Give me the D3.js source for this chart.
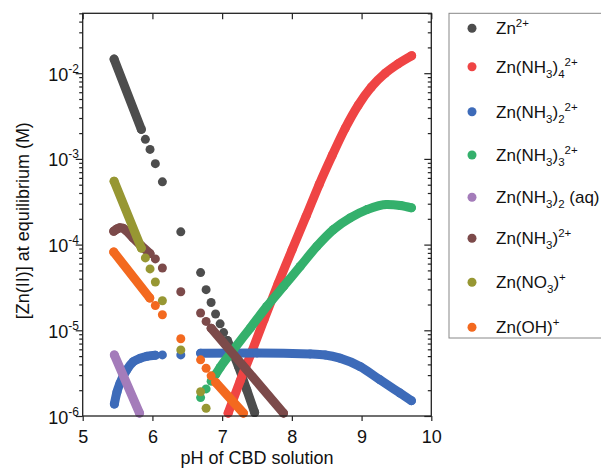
<!DOCTYPE html>
<html><head><meta charset="utf-8">
<script src="https://cdn.jsdelivr.net/npm/d3@7"></script>
<style>body{margin:0;background:#fff} svg{display:block}</style>
</head><body>
<svg id="c" width="601" height="469"></svg>
<script>
// ---------- data ----------
const xTicks = [5, 6, 7, 8, 9, 10];
const yTicks = [1e-6, 1e-5, 1e-4, 1e-3, 1e-2];
const yTickExp = ["-6", "-5", "-4", "-3", "-2"];
const xLabel = "pH of CBD solution";
const yLabel = "[Zn(II)] at equilibrium (M)";

const seriesNames = [
  [["Zn",""],["2+","sup"]],
  [["Zn(NH",""],["3","sub"],[")",""],["4","sub"],["2+","sup"]],
  [["Zn(NH",""],["3","sub"],[")",""],["2","sub"],["2+","sup"]],
  [["Zn(NH",""],["3","sub"],[")",""],["3","sub"],["2+","sup"]],
  [["Zn(NH",""],["3","sub"],[")",""],["2","sub"],[" (aq)",""]],
  [["Zn(NH",""],["3","sub"],[")",""],["2+","sup"]],
  [["Zn(NO",""],["3","sub"],[")",""],["+","sup"]],
  [["Zn(OH)",""],["+","sup"]]
];
const seriesColors = ["#4d4d4d","#ef4444","#3d6bb9","#34b06c","#a47cba","#7c4a4a","#979733","#f3691f"];

// each series: list of runs; a run of >1 point is a dense run of overlapping dots
const zn2 = [
  [[5.45,1.46e-2],[5.841,2.21e-3]],
  [[5.899,1.69e-3]],[[5.966,1.29e-3]],[[6.042,8.8e-4]],[[6.143,5.4e-4]],[[6.407,1.41e-4]],
  [[6.691,4.71e-5]],[[6.770,2.98e-5]],[[6.842,2.11e-5]],[[6.906,1.55e-5]],[[6.971,1.19e-5]],[[7.021,9.4e-6]],
  [[7.076,7.6e-6],[7.234,3.78e-6],[7.354,2.01e-6],[7.466,1.10e-6]]
];
const znNH3_4 = [
  [[7.086,1.08e-6],[7.258,2.56e-6],[7.430,5.75e-6],[7.601,1.33e-5],[7.803,3.50e-5],[8.004,8.75e-5],
   [8.205,2.15e-4],[8.392,5.04e-4],[8.579,1.10e-3],[8.765,2.28e-3],[8.952,4.23e-3],[9.139,6.86e-3],
   [9.340,1.00e-2],[9.526,1.29e-2],[9.718,1.60e-2]]
];
const znNH3_2 = [
  [[5.454,1.38e-6],[5.492,1.91e-6],[5.535,2.41e-6],[5.632,3.45e-6],[5.726,4.31e-6],[5.823,4.71e-6],[5.919,4.97e-6],[6.042,5.10e-6]],
  [[6.143,5.16e-6]],[[6.407,5.16e-6]],
  [[6.691,5.40e-6],[7.5,5.45e-6],[8.263,5.30e-6],[8.478,5.16e-6],[8.689,4.73e-6],[8.977,3.78e-6],[9.264,2.64e-6],[9.551,1.85e-6],[9.715,1.51e-6]]
];
const znNH3_3 = [
  [[6.691,1.64e-6]],[[6.770,2.07e-6]],[[6.842,2.55e-6]],
  [[6.906,3.05e-6],[6.971,3.69e-6],[7.162,5.92e-6],[7.402,1.06e-5],[7.641,1.90e-5],[7.880,3.25e-5],[8.119,5.57e-5],
   [8.359,9.55e-5],[8.598,1.50e-4],[8.837,2.05e-4],[9.077,2.56e-4],[9.364,2.94e-4],[9.555,2.86e-4],[9.715,2.69e-4]]
];
const znNH3_2aq = [
  [[5.454,5.16e-6],[5.815,1.08e-6]]
];
const znNH3 = [
  [[5.445,1.43e-4],[5.49,1.52e-4],[5.531,1.57e-4],[5.58,1.55e-4],[5.622,1.46e-4],[5.722,1.20e-4],[5.837,9.73e-5],[5.966,7.85e-5]],
  [[6.042,6.81e-5]],[[6.143,5.33e-5]],[[6.407,2.82e-5]],[[6.691,1.59e-5]],[[6.770,1.27e-5]],
  [[6.842,1.06e-5],[7.880,1.08e-6]]
];
const znNO3 = [
  [[5.45,5.5e-4],[5.841,9.1e-5]],
  [[5.899,7.0e-5]],[[5.966,5.2e-5]],[[6.042,3.66e-5]],[[6.143,2.21e-5]],[[6.407,5.9e-6]],[[6.691,1.92e-6]],[[6.770,1.23e-6]]
];
const znOH = [
  [[5.445,8.2e-5],[5.962,2.38e-5]],
  [[6.042,1.95e-5]],[[6.143,1.52e-5]],[[6.407,7.96e-6]],[[6.691,4.52e-6]],[[6.770,3.61e-6]],[[6.842,2.94e-6]],
  [[6.906,2.47e-6],[7.305,1.08e-6]]
];
const seriesData = [zn2, znNH3_4, znNH3_2, znNH3_3, znNH3_2aq, znNH3, znNO3, znOH];

// ---------- layout ----------
const svg = d3.select("#c");
const L = 82.7, R = 431.3, T = 13.3, B = 416;
const x = d3.scaleLinear().domain([5, 10]).range([L, R]);
const y = d3.scaleLog().domain([1e-6, 0.05]).range([B, T]);
const font = "'Liberation Sans', Arial, sans-serif";
const dotR = 4.5;

// series
const line = d3.line().x(d => x(d[0])).y(d => y(d[1])).curve(d3.curveMonotoneX);
const plot = svg.append("g");
seriesData.forEach((runs, i) => {
  const g = plot.append("g");
  runs.filter(r => r.length > 1).forEach(r => {
    g.append("path").attr("d", line(r)).attr("fill", "none")
      .attr("stroke", seriesColors[i]).attr("stroke-width", dotR * 2)
      .attr("stroke-linecap", "round").attr("stroke-linejoin", "round");
  });
  g.selectAll("circle").data(runs.flat()).join("circle")
    .attr("cx", d => x(d[0])).attr("cy", d => y(d[1])).attr("r", dotR)
    .attr("fill", seriesColors[i]);
});

// frame & axes
const axCol = "#222";
svg.append("rect").attr("x", L).attr("y", T).attr("width", R - L).attr("height", B - T)
  .attr("fill", "none").attr("stroke", axCol).attr("stroke-width", 1.3);

const axBottom = svg.append("g").attr("transform", `translate(0,${B})`)
  .call(d3.axisBottom(x).tickValues(xTicks).tickSize(5).tickSizeOuter(0).tickFormat(d3.format("d")));
const axTop = svg.append("g").attr("transform", `translate(0,${T})`)
  .call(d3.axisBottom(x).tickValues(xTicks).tickSize(6).tickSizeOuter(0).tickFormat(""));
const minorY = [];
for (let e = -6; e <= -2; e++) for (let k = 1; k <= 9; k++) { const v = k * Math.pow(10, e); if (v <= 0.05 + 1e-12) minorY.push(v); }
const minorOnly = minorY.filter(v => !yTicks.some(t => Math.abs(t - v) / t < 1e-6));
const leftMaj = svg.append("g").attr("transform", `translate(${L},0)`)
  .call(d3.axisLeft(y).tickValues(yTicks).tickSize(7).tickSizeOuter(0).tickFormat(""));
const leftMin = svg.append("g").attr("transform", `translate(${L},0)`)
  .call(d3.axisLeft(y).tickValues(minorOnly).tickSize(3.5).tickSizeOuter(0).tickFormat(""));
const rightMaj = svg.append("g").attr("transform", `translate(${R},0)`)
  .call(d3.axisLeft(y).tickValues(yTicks).tickSize(7).tickSizeOuter(0).tickFormat(""));
const rightMin = svg.append("g").attr("transform", `translate(${R},0)`)
  .call(d3.axisLeft(y).tickValues(minorOnly).tickSize(3.5).tickSizeOuter(0).tickFormat(""));
[axBottom, axTop, leftMaj, leftMin, rightMaj, rightMin].forEach(g => {
  g.select(".domain").remove();
  g.selectAll(".tick line").attr("stroke", axCol).attr("stroke-width", 1.2);
});
axBottom.selectAll(".tick text").attr("font-family", font).attr("font-size", 18).attr("fill", "#111").attr("dy", "1.05em");

// y tick labels with superscript exponents
const yl = svg.append("g");
yTicks.forEach((t, i) => {
  const tx = yl.append("text").attr("x", 79).attr("y", y(t) + 7.5)
    .attr("text-anchor", "end").attr("font-family", font).attr("fill", "#111").attr("font-size", 18);
  tx.append("tspan").text("10");
  tx.append("tspan").attr("font-size", 12).attr("dy", -8).text(yTickExp[i]);
});

// axis titles
svg.append("text").attr("x", (L + R) / 2).attr("y", 464).attr("text-anchor", "middle")
  .attr("font-family", font).attr("font-size", 18).attr("fill", "#111").text(xLabel);
svg.append("text").attr("transform", `translate(29,${(T + B) / 2 + 6}) rotate(-90)`).attr("text-anchor", "middle")
  .attr("font-family", font).attr("font-size", 18).attr("fill", "#111").text(yLabel);

// legend
const legRows = [28.3, 66.7, 111.7, 155, 197.3, 238.3, 282.3, 327.3];
const leg = svg.append("g");
leg.append("rect").attr("x", 449).attr("y", T).attr("width", 170).attr("height", 338 - T)
  .attr("fill", "none").attr("stroke", "#888").attr("stroke-width", 1);
seriesNames.forEach((segs, i) => {
  const cy = legRows[i];
  leg.append("circle").attr("cx", 472).attr("cy", cy).attr("r", dotR).attr("fill", seriesColors[i]);
  const tx = leg.append("text").attr("x", 496).attr("y", cy + 6)
    .attr("font-family", font).attr("font-size", 17).attr("fill", "#111");
  let cur = 0;
  segs.forEach(([s, kind]) => {
    const target = kind === "sup" ? -7 : kind === "sub" ? 5 : 0;
    tx.append("tspan").attr("dy", target - cur).attr("font-size", kind ? 11.5 : 17).text(s);
    cur = target;
  });
});
</script>
</body></html>
